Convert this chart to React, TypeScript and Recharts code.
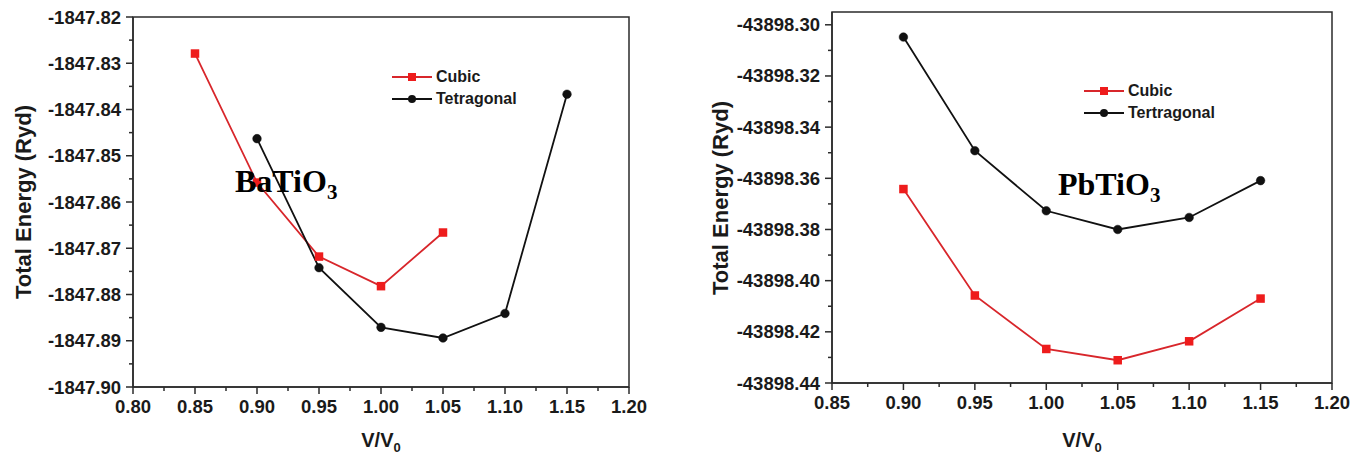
import { LineChart, Line, XAxis, YAxis, ReferenceArea, Legend } from "recharts";

const AXIS = "#2b2b2b";
const TEXT = "#1a1a1a";
const RED = "#ee1c1c";
const RED_LINE = "#d8262b";
const BLACK = "#111111";
const SANS = '"Liberation Sans", Arial, sans-serif';
const SERIF = '"Liberation Serif", "Times New Roman", serif';

// BaTiO3 panel
const baCubicV = [0.85, 0.9, 0.95, 1.0, 1.05];
const baCubicE = [-1847.8279, -1847.8558, -1847.8718, -1847.8782, -1847.8666];
const baTetraV = [0.9, 0.95, 1.0, 1.05, 1.1, 1.15];
const baTetraE = [-1847.8463, -1847.8742, -1847.8871, -1847.8894, -1847.8841, -1847.8367];
const baXTicks = [0.8, 0.85, 0.9, 0.95, 1.0, 1.05, 1.1, 1.15, 1.2];
const baYTicks = [-1847.9, -1847.89, -1847.88, -1847.87, -1847.86, -1847.85, -1847.84, -1847.83, -1847.82];

// PbTiO3 panel
const pbV = [0.9, 0.95, 1.0, 1.05, 1.1, 1.15];
const pbCubicE = [-43898.3642, -43898.4058, -43898.4267, -43898.4311, -43898.4237, -43898.407];
const pbTetraE = [-43898.3048, -43898.3492, -43898.3727, -43898.38, -43898.3753, -43898.3609];
const pbXTicks = [0.85, 0.9, 0.95, 1.0, 1.05, 1.1, 1.15, 1.2];
const pbYTicks = [-43898.44, -43898.42, -43898.4, -43898.38, -43898.36, -43898.34, -43898.32, -43898.3];
const pbYTop = -43898.295;

const zip = (vs: number[], es: number[]) => vs.map((v, i) => ({ v, e: es[i] }));

const withMinor = (majors: number[]) => {
  const out: number[] = [];
  majors.forEach((m, i) => {
    out.push(m);
    if (i < majors.length - 1) out.push((m + majors[i + 1]) / 2);
  });
  return out;
};

const isMajor = (majors: number[], v: number) => majors.some((m) => Math.abs(m - v) < 1e-7);

const XTick = (props: any) => {
  const { x, y, payload, majors } = props;
  const major = isMajor(majors, payload.value);
  return (
    <g>
      <line x1={x} y1={y} x2={x} y2={y + (major ? 7 : 4)} stroke={AXIS} strokeWidth={1.5} />
      {major && (
        <text x={x} y={y + 26} textAnchor="middle" fill={TEXT} fontFamily={SANS} fontWeight="bold" fontSize={18.5}>
          {payload.value.toFixed(2)}
        </text>
      )}
    </g>
  );
};

const YTick = (props: any) => {
  const { x, y, payload, majors } = props;
  const major = isMajor(majors, payload.value);
  return (
    <g>
      <line x1={x - (major ? 7 : 4)} y1={y} x2={x} y2={y} stroke={AXIS} strokeWidth={1.5} />
      {major && (
        <text x={x - 12} y={y + 6.5} textAnchor="end" fill={TEXT} fontFamily={SANS} fontWeight="bold" fontSize={18.5}>
          {payload.value.toFixed(2)}
        </text>
      )}
    </g>
  );
};

const squareDot = (p: any) => (
  <rect key={`sq-${p.index}`} x={p.cx - 4.25} y={p.cy - 4.25} width={8.5} height={8.5} fill={RED} />
);

type Series = { name: string; data: { v: number; e: number }[]; kind: "square" | "circle" };

const LegendBox = ({ items }: { items: Series[] }) => (
  <div style={{ font: `bold 16px ${SANS}`, color: TEXT }}>
    {items.map((it) => {
      const col = it.kind === "square" ? RED_LINE : BLACK;
      return (
        <div key={it.name} style={{ display: "flex", alignItems: "center", height: 22 }}>
          <svg width={40} height={12}>
            <line x1={0} y1={6} x2={40} y2={6} stroke={col} strokeWidth={1.8} />
            {it.kind === "square" ? (
              <rect x={16} y={2} width={8} height={8} fill={RED} />
            ) : (
              <circle cx={20} cy={6} r={4} fill={BLACK} />
            )}
          </svg>
          <span style={{ marginLeft: 4 }}>{it.name}</span>
        </div>
      );
    })}
  </div>
);

type PanelProps = {
  left: number;
  width: number;
  top: number;
  right: number;
  yWidth: number;
  xHeight: number;
  xMajor: number[];
  yMajor: number[];
  yMax: number;
  series: Series[];
  legendAt: [number, number];
  formula: string;
  formulaAt: [number, number];
  yTitleX: number;
};

const Panel = (p: PanelProps) => {
  const height = 457;
  const xDomain: [number, number] = [p.xMajor[0], p.xMajor[p.xMajor.length - 1]];
  const yDomain: [number, number] = [p.yMajor[0], p.yMax];
  const plotTop = p.top;
  const plotBottom = height - p.xHeight;
  const plotLeft = p.yWidth;
  const plotRight = p.width - p.right;
  return (
    <div style={{ position: "absolute", left: p.left, top: 0, width: p.width, height }}>
      <LineChart width={p.width} height={height} margin={{ top: p.top, right: p.right, bottom: 0, left: 0 }}>
        <XAxis
          type="number"
          dataKey="v"
          domain={xDomain}
          ticks={withMinor(p.xMajor)}
          interval={0}
          allowDataOverflow
          tickSize={0}
          tickMargin={0}
          tickLine={false}
          axisLine={{ stroke: AXIS, strokeWidth: 1.5 }}
          height={p.xHeight}
          tick={<XTick majors={p.xMajor} />}
        />
        <YAxis
          type="number"
          dataKey="e"
          domain={yDomain}
          ticks={withMinor(p.yMajor)}
          interval={0}
          allowDataOverflow
          tickSize={0}
          tickMargin={0}
          tickLine={false}
          axisLine={{ stroke: AXIS, strokeWidth: 1.5 }}
          width={p.yWidth}
          tick={<YTick majors={p.yMajor} />}
        />
        <ReferenceArea
          x1={xDomain[0]}
          x2={xDomain[1]}
          y1={yDomain[0]}
          y2={yDomain[1]}
          fill="none"
          stroke={AXIS}
          strokeWidth={1.5}
          ifOverflow="visible"
        />
        {p.series.map((s) => (
          <Line
            key={s.name}
            name={s.name}
            data={s.data}
            dataKey="e"
            type="linear"
            stroke={s.kind === "square" ? RED_LINE : BLACK}
            strokeWidth={1.8}
            dot={s.kind === "square" ? squareDot : { r: 4.3, fill: BLACK, stroke: BLACK, strokeWidth: 0.5 }}
            activeDot={false}
            isAnimationActive={false}
          />
        ))}
        <Legend
          layout="vertical"
          align="center"
          verticalAlign="middle"
          wrapperStyle={{ left: p.legendAt[0], top: p.legendAt[1], width: "auto" }}
          content={() => <LegendBox items={p.series} />}
        />
      </LineChart>
      <div
        style={{
          position: "absolute",
          left: p.yTitleX,
          top: (plotTop + plotBottom) / 2,
          transform: "translate(-50%, -50%) rotate(-90deg)",
          font: `bold 22px ${SANS}`,
          color: TEXT,
          whiteSpace: "nowrap",
        }}
      >
        Total Energy (Ryd)
      </div>
      <div
        style={{
          position: "absolute",
          left: (plotLeft + plotRight) / 2,
          top: 430,
          transform: "translateX(-50%)",
          font: `bold 20px ${SANS}`,
          lineHeight: 1,
          color: TEXT,
          whiteSpace: "nowrap",
        }}
      >
        V/V<sub style={{ fontSize: 13 }}>0</sub>
      </div>
      <div
        style={{
          position: "absolute",
          left: p.formulaAt[0],
          top: p.formulaAt[1],
          font: `bold 32px ${SERIF}`,
          lineHeight: 1,
          color: "#000",
          whiteSpace: "nowrap",
        }}
      >
        {p.formula}
        <sub style={{ fontSize: 21 }}>3</sub>
      </div>
    </div>
  );
};

const App = () => (
  <div style={{ position: "absolute", left: 0, top: 0, width: 1362, height: 457, background: "#fff" }}>
    <Panel
      left={0}
      width={680}
      top={17}
      right={51}
      yWidth={133}
      xHeight={70}
      xMajor={baXTicks}
      yMajor={baYTicks}
      yMax={baYTicks[baYTicks.length - 1]}
      series={[
        { name: "Cubic", data: zip(baCubicV, baCubicE), kind: "square" },
        { name: "Tetragonal", data: zip(baTetraV, baTetraE), kind: "circle" },
      ]}
      legendAt={[392, 66]}
      formula="BaTiO"
      formulaAt={[235, 165]}
      yTitleX={24}
    />
    <Panel
      left={680}
      width={682}
      top={12}
      right={30}
      yWidth={152}
      xHeight={74}
      xMajor={pbXTicks}
      yMajor={pbYTicks}
      yMax={pbYTop}
      series={[
        { name: "Cubic", data: zip(pbV, pbCubicE), kind: "square" },
        { name: "Tertragonal", data: zip(pbV, pbTetraE), kind: "circle" },
      ]}
      legendAt={[404, 80]}
      formula="PbTiO"
      formulaAt={[378, 168]}
      yTitleX={41}
    />
  </div>
);

export default App;
